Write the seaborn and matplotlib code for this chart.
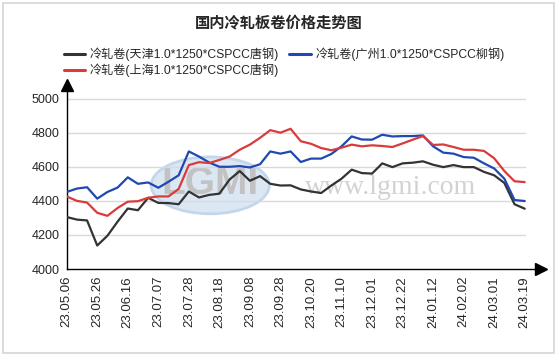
import numpy as np
import pandas as pd
import matplotlib
matplotlib.use("Agg")
import matplotlib.pyplot as plt
from matplotlib.lines import Line2D
from matplotlib.patches import Ellipse, Rectangle
import seaborn as sns

title = "国内冷轧板卷价格走势图"
series_names = ["冷轧卷(天津1.0*1250*CSPCC唐钢)",
                "冷轧卷(广州1.0*1250*CSPCC柳钢)",
                "冷轧卷(上海1.0*1250*CSPCC唐钢)"]
colors = ["#333333", "#1f48b0", "#d93b3b"]

tick_labels = ["23.05.06", "23.05.26", "23.06.16", "23.07.07", "23.07.28", "23.08.18",
               "23.09.08", "23.09.28", "23.10.20", "23.11.10", "23.12.01", "23.12.22",
               "24.01.12", "24.02.02", "24.03.01", "24.03.19"]

# sample positions (trading-day index; one tick label every 15)
idx = list(range(0, 226, 5))

tianjin = [4305, 4290, 4285, 4138, 4195, 4278, 4355, 4345, 4418, 4388,
           4387, 4380, 4455, 4420, 4435, 4442, 4525, 4575, 4518, 4545,
           4500, 4490, 4491, 4467, 4455, 4446, 4490, 4530, 4583, 4563,
           4560, 4620, 4598, 4620, 4624, 4632, 4612, 4598, 4610, 4598,
           4598, 4570, 4550, 4505, 4380, 4354]

guangzhou = [4452, 4472, 4480, 4413, 4452, 4478, 4538, 4500, 4508, 4477,
             4512, 4550, 4690, 4660, 4625, 4600, 4600, 4604, 4596, 4615,
             4690, 4677, 4690, 4628, 4648, 4648, 4675, 4720, 4778, 4760,
             4759, 4788, 4778, 4780, 4780, 4784, 4720, 4683, 4677, 4657,
             4653, 4620, 4590, 4530, 4405, 4399]

shanghai = [4426, 4400, 4390, 4330, 4312, 4358, 4395, 4398, 4418, 4426,
            4426, 4470, 4610, 4627, 4622, 4640, 4660, 4700, 4730, 4770,
            4815, 4800, 4823, 4750, 4735, 4710, 4697, 4712, 4730, 4720,
            4726, 4722, 4716, 4737, 4759, 4780, 4728, 4731, 4716, 4700,
            4700, 4693, 4650, 4575, 4515, 4510]

yticks = [4000, 4200, 4400, 4600, 4800, 5000]

df = pd.concat([
    pd.DataFrame({"idx": idx, "price": vals, "series": name})
    for name, vals in zip(series_names, [tianjin, guangzhou, shanghai])
])

sns.set_style("white")
plt.rcParams["font.family"] = ["Liberation Sans", "Noto Sans CJK SC", "DejaVu Sans"]

W, H = 558, 357
fig = plt.figure(figsize=(W / 100, H / 100), dpi=100)
ax = fig.add_axes([66.7 / W, 1 - 269 / H, (541 - 66.7) / W, (269 - 85) / H])

# watermark
ax.add_patch(Ellipse((70.5, 4491), 58, 334, facecolor="#dce7f4", edgecolor="#c3d6ec",
                     linewidth=2, zorder=0.5))
ax.text(70.5, 4500, "LGMI", fontsize=28, fontweight="bold", color="#c2c2c2",
        ha="center", va="center", zorder=0.6)
ax.text(159, 4479, "www.lgmi.com", fontsize=20, color="#d2d2d2",
        family=["Liberation Serif", "DejaVu Serif"], ha="center", va="center", zorder=0.6)

sns.lineplot(data=df, x="idx", y="price", hue="series", palette=dict(zip(series_names, colors)),
             estimator=None, sort=False, linewidth=1.6, legend=False, ax=ax, zorder=3)

ax.set_xlim(0, 233)
ax.set_ylim(4000, 5080)
for yv in yticks[1:]:
    ax.plot([0, 225], [yv, yv], color="#d9d9d9", linewidth=1.0, zorder=1)

tick_pos = [15 * i for i in range(len(tick_labels))]
ax.set_xticks(tick_pos)
ax.set_xticklabels(tick_labels, rotation=90, fontsize=9.5)
ax.set_yticks(yticks)
ax.set_yticklabels([str(v) for v in yticks], fontsize=9)
ax.tick_params(axis="both", direction="out", length=3, width=1, color="black", pad=2)
ax.set_xlabel("")
ax.set_ylabel("")
for s in ["top", "right"]:
    ax.spines[s].set_visible(False)
for s in ["left", "bottom"]:
    ax.spines[s].set_color("black")
    ax.spines[s].set_linewidth(1.0)
ax.plot(1, 4000, ">k", markersize=8, transform=ax.get_yaxis_transform(), clip_on=False)
ax.plot(0, 1, "^k", markersize=8, transform=ax.get_xaxis_transform(), clip_on=False)

fig.text(279 / W, 1 - 22 / H, title, ha="center", va="center", fontsize=11,
         fontweight="bold", family=["Noto Sans CJK SC"])

handles = [Line2D([], [], color=c, linewidth=2.2) for c in colors]
order = [0, 2, 1]
fig.legend([handles[i] for i in order], [series_names[i] for i in order],
           ncol=2, loc="upper left", bbox_to_anchor=(63.5 / W, 1 - 47.5 / H),
           frameon=False, fontsize=8.7, handlelength=1.78, handletextpad=0.41,
           columnspacing=0.83, labelspacing=0.2, borderpad=0, borderaxespad=0)

fig.add_artist(Rectangle((3 / W, 4 / H), 551 / W, 350 / H, transform=fig.transFigure,
                         fill=False, edgecolor="#d6d6d6", linewidth=1.2))

fig.savefig("out.png", dpi=100)
